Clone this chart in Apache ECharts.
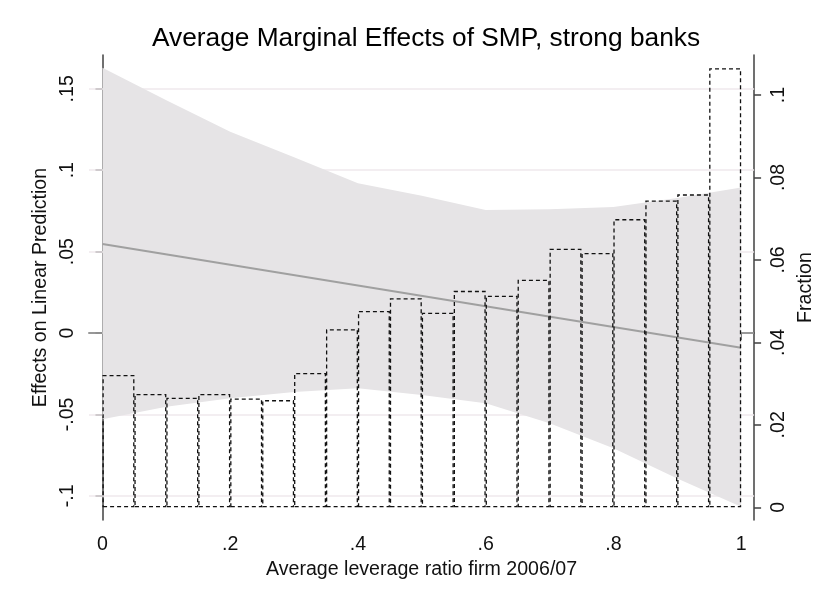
<!DOCTYPE html>
<html>
<head>
<meta charset="utf-8">
<script src="https://cdn.jsdelivr.net/npm/echarts@6/dist/echarts.min.js"></script>
<style>html,body{margin:0;padding:0;background:#fff}#c{width:824px;height:595px}</style>
</head>
<body>
<div id="c"></div>
<script>
// ---- data ----
var title = 'Average Marginal Effects of SMP, strong banks';
var xTicks = [0, 0.2, 0.4, 0.6, 0.8, 1];
var leftTicks = [-0.1, -0.05, 0, 0.05, 0.1, 0.15];
var rightTicks = [0, 0.02, 0.04, 0.06, 0.08, 0.1];

// histogram: 20 bins of width .05 (bin centres, fraction)
var binCenters = [0.025,0.075,0.125,0.175,0.225,0.275,0.325,0.375,0.425,0.475,
                  0.525,0.575,0.625,0.675,0.725,0.775,0.825,0.875,0.925,0.975];
var fractions  = [0.0321,0.0275,0.0266,0.0275,0.0264,0.0260,0.0326,0.0432,0.0476,0.0507,
                  0.0472,0.0525,0.0513,0.0552,0.0627,0.0617,0.0699,0.0744,0.0759,0.1065];

// marginal effect line and confidence band
var lineX = [0, 1];
var lineY = [0.0547, -0.0090];
var bandX     = [0, 0.1, 0.2, 0.3, 0.4, 0.5, 0.6, 0.7, 0.8, 0.9, 1.0];
var bandUpper = [0.163, 0.143, 0.1236, 0.108, 0.092, 0.0843, 0.0756, 0.0760, 0.0774, 0.0829, 0.0893];
var bandLower = [-0.0530, -0.0453, -0.0401, -0.0362, -0.0340, -0.0381, -0.0432, -0.0555, -0.0708, -0.0893, -0.1067];

// ---- chart ----
function stataFmt(v){
  var s = (Math.round(v*1000)/1000).toString();
  return s.replace(/^(-?)0\./, '$1.');
}
var FONT = 'Liberation Sans, Arial, sans-serif';
var axisCol = '#404040';
var txtCol = '#111';

var chart = echarts.init(document.getElementById('c'), null, {renderer:'canvas'});

var gridLines = leftTicks.map(function(v){
  return {yAxis: v, lineStyle: {color: v === 0 ? '#a6a6a6' : '#efe8ec', width: 1.5, type:'solid'}};
});

var option = {
  animation: false,
  backgroundColor: '#fff',
  title: {
    text: title, left: 421, textAlign: 'center', top: 21,
    textStyle: {fontFamily: FONT, fontSize: 26.3, fontWeight: 'normal', color: '#000'}
  },
  grid: {left: 89, right: 69, top: 55, bottom: 75, containLabel: false},
  xAxis: {
    type: 'value', min: -0.0211, max: 1.0203,
    name: 'Average leverage ratio firm 2006/07', nameLocation: 'middle', nameGap: 36,
    nameTextStyle: {fontFamily: FONT, fontSize: 19.6, color: txtCol},
    axisLine: {show: true, lineStyle: {color: axisCol, width: 1.5}},
    axisTick: {show: true, length: 7, customValues: xTicks, lineStyle: {color: axisCol, width: 1.5}},
    axisLabel: {customValues: xTicks, formatter: stataFmt, fontFamily: FONT, fontSize: 19.6, color: txtCol, margin: 15},
    splitLine: {show: false}
  },
  yAxis: [{
    type: 'value', min: -0.11486, max: 0.17076, position: 'left',
    name: 'Effects on Linear Prediction', nameLocation: 'middle', nameGap: 35,
    nameTextStyle: {fontFamily: FONT, fontSize: 19.6, color: txtCol},
    axisLine: {show: true, lineStyle: {color: axisCol, width: 1.5}},
    axisTick: {show: true, length: 7, customValues: leftTicks, lineStyle: {color: axisCol, width: 1.5}},
    axisLabel: {customValues: leftTicks, formatter: stataFmt, rotate: 90, fontFamily: FONT, fontSize: 19.6, color: txtCol, margin: 11},
    splitLine: {show: false}
  }, {
    type: 'value', min: -0.00308, max: 0.1097, position: 'right',
    name: 'Fraction', nameLocation: 'middle', nameGap: 36,
    nameTextStyle: {fontFamily: FONT, fontSize: 19.6, color: txtCol},
    axisLine: {show: true, lineStyle: {color: axisCol, width: 1.5}},
    axisTick: {show: true, length: 7, customValues: rightTicks, lineStyle: {color: axisCol, width: 1.5}},
    axisLabel: {customValues: rightTicks, formatter: stataFmt, rotate: 90, fontFamily: FONT, fontSize: 19.6, color: txtCol, margin: 14},
    splitLine: {show: false}
  }],
  series: [{
    name: 'grid', type: 'line', data: [], yAxisIndex: 0, z: 1, silent: true,
    markLine: {silent: true, z: 1, symbol: ['none','none'], label: {show: false}, animation: false, data: gridLines}
  }, {
    name: 'band', type: 'custom', yAxisIndex: 0, z: 2, silent: true,
    data: [[0, 0]],
    renderItem: function(params, api){
      var pts = [];
      for (var i = 0; i < bandX.length; i++) pts.push(api.coord([bandX[i], bandUpper[i]]));
      for (var j = bandX.length - 1; j >= 0; j--) pts.push(api.coord([bandX[j], bandLower[j]]));
      return {type: 'polygon', shape: {points: pts}, style: {fill: '#e6e4e6', stroke: null}};
    }
  }, {
    name: 'effect', type: 'line', yAxisIndex: 0, z: 3, silent: true,
    data: lineX.map(function(x, i){ return [x, lineY[i]]; }),
    showSymbol: false, symbol: 'none',
    lineStyle: {color: '#a0a0a0', width: 2}
  }, {
    name: 'hist', type: 'bar', yAxisIndex: 1, z: 4, silent: true,
    data: binCenters.map(function(x, i){ return [x, fractions[i]]; }),
    barWidth: 32,
    itemStyle: {color: 'rgba(0,0,0,0)', borderColor: '#111', borderWidth: 1.3, borderType: [4, 3]}
  }]
};
chart.setOption(option);
</script>
</body>
</html>
